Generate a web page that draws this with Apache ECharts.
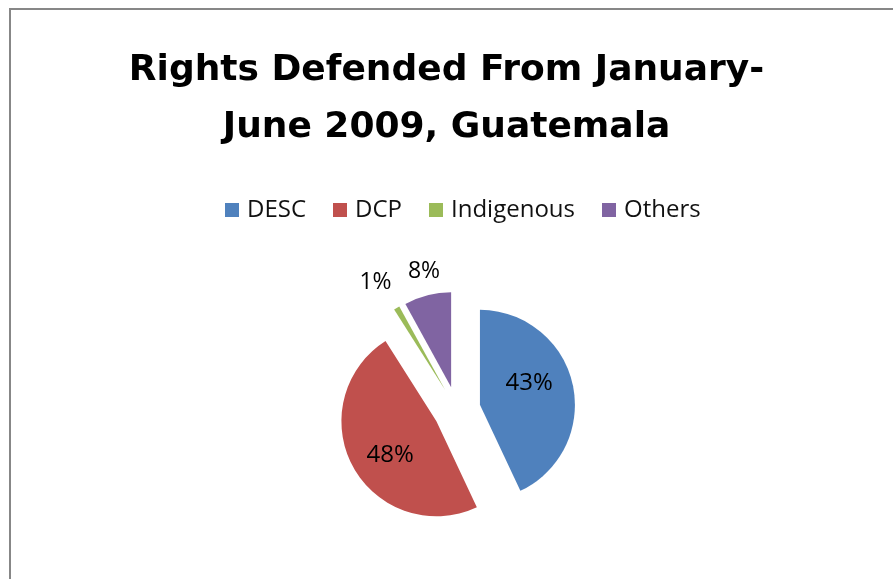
<!DOCTYPE html>
<html>
<head>
<meta charset="utf-8">
<script src="https://cdn.jsdelivr.net/npm/echarts@6/dist/echarts.min.js"></script>
<style>
  html, body { margin: 0; padding: 0; background: #ffffff; }
  #chart { width: 893px; height: 579px; }
</style>
</head>
<body>
<div id="chart"></div>
<script>
// Rights defended, January–June 2009 (share of cases, %)
const categories = ['DESC', 'DCP', 'Indigenous', 'Others'];
const shares = [43, 48, 1, 8];
const colors = ['#4F81BD', '#C0504D', '#9BBB59', '#8064A2'];
// the two large slices carry their labels inside, the slivers outside
const insideLabel = [true, true, false, false];
// small nudges of each value label from its default anchor
const labelNudge = [[0, -11], [-2, 10], [7, -13], [21, -10]];

const chart = echarts.init(document.getElementById('chart'), null, { renderer: 'canvas' });

const pieData = categories.map((name, i) => ({
  name: name,
  value: shares[i],
  selected: true,
  itemStyle: { color: colors[i] },
  label: insideLabel[i]
    ? { position: 'inside', fontSize: 24 }
    : { position: 'outside', fontSize: 23 },
  labelLine: { show: false, length: 14, length2: 0 }
}));

chart.setOption({
  animation: false,
  backgroundColor: '#ffffff',
  graphic: [{
    type: 'rect',
    silent: true,
    shape: { x: 10, y: 9, width: 1000, height: 1000 },
    style: { fill: 'none', stroke: '#878787', lineWidth: 2 }
  }],
  title: {
    text: 'Rights Defended From January-\nJune 2009, Guatemala',
    left: 'center',
    top: 37,
    textStyle: {
      fontFamily: 'DejaVu Sans',
      fontWeight: 'bold',
      fontSize: 36,
      lineHeight: 57,
      color: '#000000'
    }
  },
  legend: {
    data: categories,
    top: 193,
    left: 220,
    itemWidth: 14,
    itemHeight: 14,
    itemGap: 27,
    icon: 'rect',
    textStyle: {
      fontFamily: 'Open Sans',
      fontSize: 24,
      color: '#111111',
      padding: [0, 0, 0, 3]
    },
    selectedMode: false
  },
  series: [{
    type: 'pie',
    center: [457, 410],
    radius: 95,
    startAngle: 90,
    clockwise: true,
    selectedMode: 'multiple',
    selectedOffset: 23.5,
    avoidLabelOverlap: false,
    emphasis: { disabled: true },
    label: {
      show: true,
      formatter: '{c}%',
      fontFamily: 'Open Sans',
      color: '#000000'
    },
    labelLayout: function (params) {
      const n = labelNudge[params.dataIndex];
      return { dx: n[0], dy: n[1], hideOverlap: false, moveOverlap: null };
    },
    data: pieData
  }]
});
</script>
</body>
</html>
